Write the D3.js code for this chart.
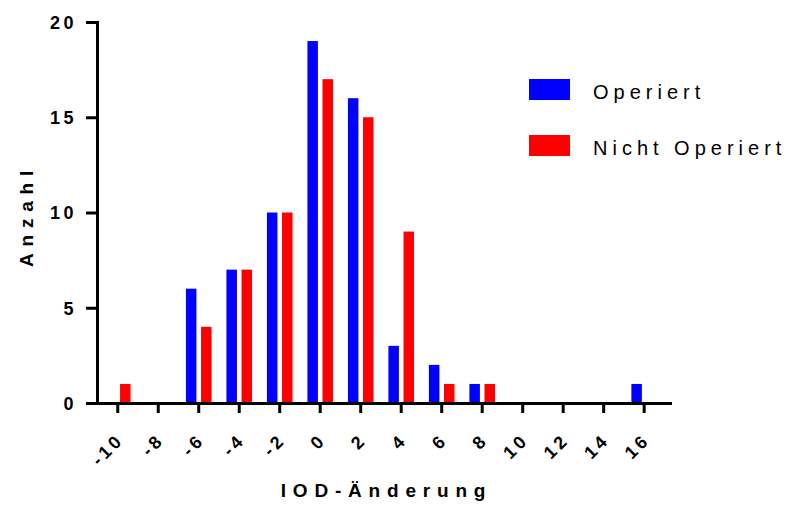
<!DOCTYPE html>
<html><head><meta charset="utf-8">
<script src="https://cdn.jsdelivr.net/npm/d3@7"></script>
<style>
body{margin:0;background:#fff;}
svg{display:block;}
</style></head>
<body><svg id="c" width="785" height="505"></svg>
<script>
const bins = [-10,-8,-6,-4,-2,0,2,4,6,8,10,12,14,16];
const operiert = [0,0,6,7,10,19,16,3,2,1,0,0,0,1];
const nichtOperiert = [1,0,4,7,10,17,15,9,1,1,0,0,0,0];
const seriesNames = ["Operiert","Nicht Operiert"];
const seriesColors = ["#0000ff","#ff0000"];
const yTicks = [0,5,10,15,20];
const xTitle = "IOD-Änderung";
const yTitle = "Anzahl";

const svg = d3.select("#c");
const x = d3.scaleLinear().domain([-11,17.3]).range([97,670]);
const y = d3.scaleLinear().domain([0,20]).range([403,22]);
const sub = d3.scaleBand().domain(seriesNames).range([-12.3,13.3]).paddingInner(0.305).paddingOuter(0);

const font = "'Liberation Sans', Arial, sans-serif";

// bars
const series = [operiert, nichtOperiert];
series.forEach((vals,si)=>{
  svg.append("g").selectAll("rect").data(bins.map((b,i)=>({b,v:vals[i]})).filter(d=>d.v>0))
    .join("rect")
    .attr("x", d=>x(d.b)+sub(seriesNames[si]))
    .attr("width", sub.bandwidth())
    .attr("y", d=>y(d.v))
    .attr("height", d=>y(0)-y(d.v))
    .attr("fill", seriesColors[si]);
});

// y axis
const gy = svg.append("g").attr("transform","translate(97,0)")
  .call(d3.axisLeft(y).tickValues(yTicks).tickFormat(d=>String(d)).tickSize(11).tickSizeOuter(0).tickPadding(9));
gy.select(".domain").attr("stroke","#000").attr("stroke-width",3).attr("stroke-linecap","square");
gy.selectAll(".tick line").attr("stroke","#000").attr("stroke-width",3);
gy.selectAll(".tick text").attr("font-family",font).attr("font-weight","bold")
  .attr("font-size",18).attr("letter-spacing","3.5px").attr("fill","#000").attr("dy","0.36em");

// x axis
const gx = svg.append("g").attr("transform","translate(0,403)")
  .call(d3.axisBottom(x).tickValues(bins).tickFormat(d=>String(d)).tickSize(10).tickSizeOuter(0));
gx.select(".domain").attr("stroke","#000").attr("stroke-width",3).attr("stroke-linecap","square");
gx.selectAll(".tick line").attr("stroke","#000").attr("stroke-width",3);
gx.selectAll(".tick text")
  .attr("font-family",font).attr("font-weight","bold").attr("font-size",18)
  .attr("letter-spacing","3.5px").attr("fill","#000")
  .attr("text-anchor","end").attr("y",0).attr("dy",0)
  .attr("transform","translate(7,38) rotate(-45)");

// titles
svg.append("text").text(xTitle)
  .attr("x",(x.range()[0]+x.range()[1])/2+3).attr("y",497)
  .attr("text-anchor","middle").attr("font-family",font).attr("font-weight","bold")
  .attr("font-size",19).attr("letter-spacing","6.8px");
svg.append("text").text(yTitle)
  .attr("transform",`translate(33,${(y.range()[0]+y.range()[1])/2+3}) rotate(-90)`)
  .attr("text-anchor","middle").attr("font-family",font).attr("font-weight","bold")
  .attr("font-size",19).attr("letter-spacing","6.8px");

// legend
const leg = svg.append("g");
seriesNames.forEach((n,i)=>{
  const g = leg.append("g").attr("transform",`translate(529,${79+i*56})`);
  g.append("rect").attr("width",41).attr("height",21).attr("fill",seriesColors[i]);
  g.append("text").text(n).attr("x",64).attr("y",20)
    .attr("font-family",font).attr("font-size",20).attr("letter-spacing","5px").attr("fill","#000");
});
</script></body></html>
